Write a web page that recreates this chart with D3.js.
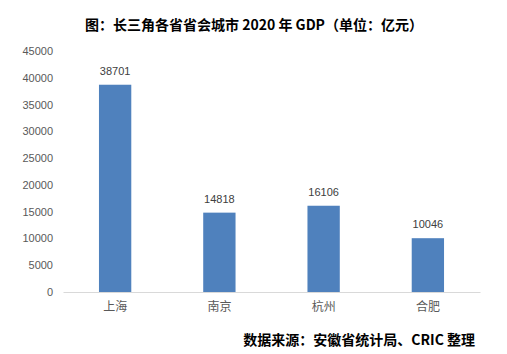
<!DOCTYPE html>
<html>
<head>
<meta charset="utf-8">
<script src="https://cdn.jsdelivr.net/npm/d3@7"></script>
<style>
  body { margin: 0; background: #fff; }
  svg { display: block; }
</style>
</head>
<body>
<div id="chart"></div>
<script>
// chart data
const cities = ["上海", "南京", "杭州", "合肥"];
const gdp = [38701, 14818, 16106, 10046];
const yTicks = [0, 5000, 10000, 15000, 20000, 25000, 30000, 35000, 40000, 45000];

const width = 507, height = 354;
const margin = {top: 51, right: 27, bottom: 62, left: 63};

const svg = d3.select("#chart").append("svg")
    .attr("width", width)
    .attr("height", height);

// scales
const x = d3.scaleBand()
    .domain(cities)
    .range([margin.left, width - margin.right])
    .paddingInner(0.69)
    .paddingOuter(0.345);

const y = d3.scaleLinear()
    .domain([0, 45000])
    .range([height - margin.bottom, margin.top]);

// title
svg.append("text")
    .attr("x", 254)
    .attr("y", 30)
    .attr("text-anchor", "middle")
    .style("font-family", "'Noto Sans CJK SC', sans-serif")
    .style("font-size", "14px")
    .style("font-weight", "bold")
    .attr("fill", "#000")
    .text("图：长三角各省省会城市 2020 年 GDP（单位：亿元）");

// y axis
const yAxis = svg.append("g")
    .attr("transform", "translate(" + margin.left + ",0)")
    .call(d3.axisLeft(y).tickValues(yTicks).tickFormat(d3.format("d")).tickSize(0).tickPadding(10));
yAxis.select(".domain").remove();
yAxis.selectAll("text")
    .style("font-family", "'Liberation Sans', Arial, sans-serif")
    .style("font-size", "11px")
    .attr("fill", "#595959");

// x axis
const xAxis = svg.append("g")
    .attr("transform", "translate(0," + y(0) + ")")
    .call(d3.axisBottom(x).tickSize(0).tickPadding(10));
xAxis.select(".domain").attr("stroke", "#d9d9d9");
xAxis.selectAll("text")
    .style("font-family", "'Noto Sans CJK SC', sans-serif")
    .style("font-size", "12px")
    .attr("fill", "#595959");

// bars
svg.selectAll("rect.bar")
    .data(gdp)
    .enter()
    .append("rect")
    .attr("class", "bar")
    .attr("x", (d, i) => x(cities[i]))
    .attr("y", d => y(d))
    .attr("width", x.bandwidth())
    .attr("height", d => y(0) - y(d))
    .attr("fill", "#4f81bd");

// value labels
svg.selectAll("text.val")
    .data(gdp)
    .enter()
    .append("text")
    .attr("class", "val")
    .attr("x", (d, i) => x(cities[i]) + x.bandwidth() / 2)
    .attr("y", d => y(d) - 10)
    .attr("text-anchor", "middle")
    .style("font-family", "'Liberation Sans', Arial, sans-serif")
    .style("font-size", "11px")
    .attr("fill", "#404040")
    .text(d => d);

// source note
svg.append("text")
    .attr("x", 475)
    .attr("y", 345)
    .attr("text-anchor", "end")
    .style("font-family", "'Noto Sans CJK SC', sans-serif")
    .style("font-size", "14px")
    .style("font-weight", "bold")
    .attr("fill", "#000")
    .text("数据来源：安徽省统计局、CRIC 整理");
</script>
</body>
</html>
